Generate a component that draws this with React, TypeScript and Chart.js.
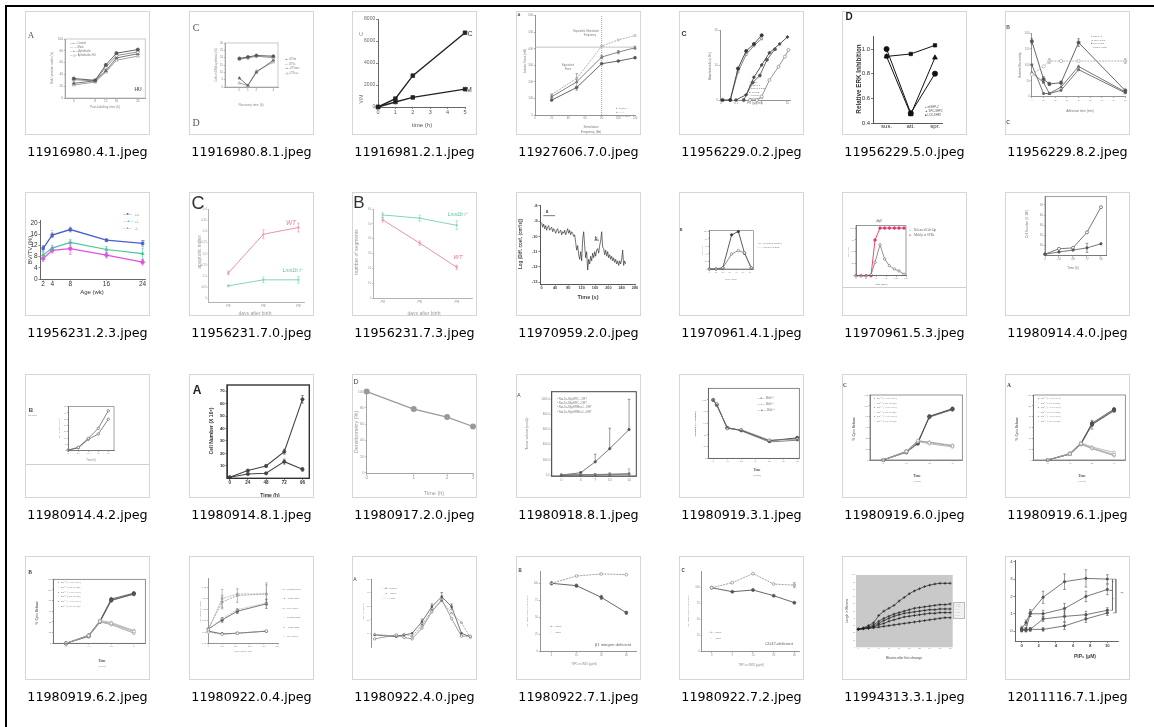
import React, { useEffect, useRef } from "react";
import { Chart, registerables } from "chart.js";

Chart.register(...registerables);

const SANS = "'Liberation Sans', Arial, Helvetica, sans-serif";
const SERIF = "'Liberation Serif', 'Times New Roman', serif";
const DV = "'DejaVu Sans', Verdana, sans-serif";

/* ---------------- captions ---------------- */
const FILE_NAMES = [
  "11916980.4.1.jpeg", "11916980.8.1.jpeg", "11916981.2.1.jpeg", "11927606.7.0.jpeg", "11956229.0.2.jpeg", "11956229.5.0.jpeg", "11956229.8.2.jpeg",
  "11956231.2.3.jpeg", "11956231.7.0.jpeg", "11956231.7.3.jpeg", "11970959.2.0.jpeg", "11970961.4.1.jpeg", "11970961.5.3.jpeg", "11980914.4.0.jpeg",
  "11980914.4.2.jpeg", "11980914.8.1.jpeg", "11980917.2.0.jpeg", "11980918.8.1.jpeg", "11980919.3.1.jpeg", "11980919.6.0.jpeg", "11980919.6.1.jpeg",
  "11980919.6.2.jpeg", "11980922.0.4.jpeg", "11980922.4.0.jpeg", "11980922.7.1.jpeg", "11980922.7.2.jpeg", "11994313.3.1.jpeg", "12011116.7.1.jpeg",
];
const COL_LEFT = [25, 189, 352, 516, 679, 842, 1005];
const ROW_TOP = [11, 192, 374, 556];

/* ---------------- data ---------------- */
const T01_X = [0, 8, 12, 16, 24];
const T01_CTRL = [33, 30, 56, 76, 82];
const T01_MOCK = [31, 29, 52, 72, 78];
const T01_HU = [25, 29, 46, 68, 75];
const T01_HUC = [22, 27, 44, 64, 71];

const T02_X = [0, 1, 2, 4];
const T02_A = [19.5, 20.5, 21.5, 21];
const T02_B = [19, 19.8, 21, 20];
const T02_C = [6, 1, 10, 18.3];
const T02_D = [2.7, 1, 10.8, 17];

const T03_X = [0, 1, 2, 5];
const T03_C = [0, 760, 2850, 6750];
const T03_M = [0, 456, 870, 1620];

const T04_X = [20, 50, 80, 100, 120];
const T04_CTRL = [90, 166, 310, 326, 346];
const T04_AAA = [110, 200, 350, 380, 406];
const T04_AAAG = [124, 220, 416, 454, 480];
const T04_VX = [80, 80];
const T04_VY = [0, 600];
const T04_HX = [0, 120];
const T04_HY = [410, 410];

const T05_X1 = [0.03, 0.06, 0.12, 0.25, 0.5, 1];
const T05_Y1 = [0, 0, 9, 14, 16, 18.5];
const T05_X2 = [0.06, 0.12, 0.25, 0.5, 1];
const T05_Y2 = [0, 8, 13, 15.5, 17.5];
const T05_X3 = [0.1, 0.25, 0.5, 1, 2, 5, 10];
const T05_Y3 = [0, 1.5, 6.5, 10, 13.5, 16, 18];
const T05_X4 = [0.2, 0.45, 0.85, 1.6, 3.3];
const T05_Y4 = [0, 5, 7, 11.5, 14.5];
const T05_X5 = [0.35, 0.65, 1, 2, 4.5, 8, 11];
const T05_Y5 = [0, 0, 1, 5.7, 9.5, 12.4, 14.3];
const T05_TICKS = ["0", "0.1", "1", "10"];

const T06_X = [0, 1, 2];
const T06_CATS = ["sus.", "att.", "spr."];
const T06_WT = [1.0, 0.48, 0.8];
const T06_SPC = [0.94, 0.47, 0.93];
const T06_LCK = [0.94, 0.96, 1.03];

const T07_X = [0, 10, 15, 25, 40, 80];
const T07_WT = [174, 55, 40, 44, 170, 19];
const T07_SPC = [75, 45, 10, 30, 95, 15];
const T07_LCK = [100, 10, 10, 20, 85, 12];
const T07_CTL = [70, 95, 112, 112, 112, 112];

const T08_X = [2, 4, 8, 16, 24];
const T08_WT = [10.9, 15.6, 17.6, 13.8, 12.7];
const T08_HET = [8.5, 11, 13, 10.5, 9];
const T08_KO = [7.3, 10.2, 10.8, 8.5, 6.0];

const T09_X = [0, 1, 2];
const T09_CATS = ["P3", "P6", "P9"];
const T09_WT = [0.114, 0.288, 0.318];
const T09_LMX = [0.056, 0.083, 0.083];

const T10_X = [0, 1, 2];
const T10_LMX = [56, 53.8, 49];
const T10_WT = [52.7, 37, 20.7];

const T11_T = [0, 3, 6, 9, 12, 15, 18, 21, 24, 27, 30, 33, 36, 39, 42, 45, 48, 51, 54, 57, 60, 63, 66, 69, 72, 75, 78, 81, 84, 87, 90, 93, 96, 99, 102, 105, 108, 111, 114, 117, 120, 123, 126, 129, 132, 135, 138, 141, 144, 147, 150, 153, 156, 159, 162, 165, 168, 171, 174, 177, 180, 183, 186, 189, 192, 195, 198, 201, 204, 207, 210, 213, 216, 219, 222, 225, 228, 231, 234, 237, 240, 243, 246, 249, 252];
const T11_V = [-9.1, -9.4, -9.2, -9.5, -9.3, -9.6, -9.4, -9.3, -9.6, -9.5, -9.4, -9.7, -9.5, -9.6, -9.8, -9.6, -9.5, -9.8, -9.7, -9.6, -9.9, -9.7, -9.8, -9.6, -9.9, -9.7, -9.5, -9.8, -9.6, -9.9, -9.7, -9.8, -10.0, -9.9, -10.4, -10.9, -10.6, -11.2, -11.5, -11.0, -11.6, -10.2, -9.7, -10.6, -11.4, -11.0, -12.2, -11.5, -11.8, -11.3, -11.6, -11.1, -11.4, -11.0, -11.3, -10.9, -10.8, -11.1, -10.6, -10.3, -9.7, -10.7, -10.8, -11.2, -10.9, -11.3, -11.0, -11.4, -11.2, -11.5, -11.3, -11.6, -11.4, -11.7, -11.5, -11.8, -11.6, -11.9, -11.6, -11.8, -11.5, -10.9, -11.9, -11.6, -11.8];
const T11_AX = [5, 40];
const T11_AY = [-8.65, -8.65];
const T11_BX = [158, 172];
const T11_BY = [-10.25, -10.25];

const T12_X = [0, 10, 20, 33, 43, 52, 62];
const T12_REL = [0, 0, 3, 91, 100, 42, 3];
const T12_SPB = [0, 0, 3, 40, 49, 43, 3];

const T13_X = [0, 15, 30, 45, 57, 72, 86, 100, 115, 129, 144];
const T13_MOB = [0, 0, 0, 0, 75, 100, 100, 100, 100, 100, 100];
const T13_REL = [0, 0, 0, 2, 28, 65, 35, 21, 14, 10, 3];

const T14_X = [0, 24, 48, 72, 96];
const T14_A = [1.5, 6.8, 7.7, 23, 47.7];
const T14_B = [1.5, 3.7, 5.5, 7.7, 11.7];

const T15_X = [0, 24, 48, 72, 96];
const T15_A = [0.5, 2.7, 9.8, 17.8, 31.8];
const T15_B = [0.5, 2.3, 9, 13.3, 25];

const T16_X = [0, 24, 48, 72, 96];
const T16_A = [0.8, 6.2, 9.9, 21.4, 63.5];
const T16_B = [0.8, 3.5, 4, 13.4, 7.2];

const T17_X = [0, 1, 2, 3];
const T17_Y = [100, 78.5, 68.6, 57];
const T17_TICKS = ["0", "1", "2", "3"];

const T18_X = [0, 4, 7, 10, 14];
const T18_A = [0, 30, 174, 348, 600];
const T18_B = [0, 5, 5, 10, 20];
const T18_C = [0, 3, 8, 10, 15];
const T18_D = [0, 2, 2, 5, 10];
const T18_YLAB = ["0.0", "200.0", "400.0", "600.0", "800.0", "1000.0"];

const T19_X = [0, 3, 12, 24, 48, 72];
const T19_WT = [100, 92, 52, 48, 30, 35];
const T19_HET = [100, 93, 51, 49, 31, 33];
const T19_KO = [100, 91, 53, 47, 28, 31];

const T20_X = [0, 12, 18, 24, 36];
const T20_U1 = [0, 16, 32, 79, 93];
const T20_U2 = [0, 15, 33, 80, 95];
const T20_U3 = [0, 14, 30, 81, 94];
const T20_L1 = [0, 16, 36, 32, 26];
const T20_L2 = [0, 15, 34, 30, 24];
const T20_L3 = [0, 15, 35, 33, 27];

const T21_X = [0, 12, 18, 24, 36];
const T21_U1 = [0, 11, 29, 65, 91];
const T21_U2 = [0, 12, 31, 68, 94];
const T21_U3 = [0, 11, 30, 66, 92];
const T21_L1 = [0, 11, 30, 22, 10];
const T21_L2 = [0, 12, 32, 24, 14];
const T21_L3 = [0, 11, 29, 21, 8];

const T22_X = [0, 12, 18, 24, 36];
const T22_U1 = [0, 14, 41, 81, 92];
const T22_U2 = [0, 15, 42, 83, 94];
const T22_U3 = [0, 13, 40, 80, 93];
const T22_L1 = [0, 14, 41, 37, 22];
const T22_L2 = [0, 15, 43, 39, 24];
const T22_L3 = [0, 14, 40, 35, 19];

const T23_X = [0, 100, 210, 420];
const T23_A = [0.154, 0.142, 0.145, 0.154];
const T23_B = [0.164, 0.284, 0.313, 0.321];
const T23_C = [0.164, 0.204, 0.243, 0.276];
const T23_D = [0.16, 0.3, 0.32, 0.32];
const T23_E = [0.16, 0.21, 0.25, 0.28];
const T23_F = [0.15, 0.14, 0.145, 0.155];

const T24_X = [0.3, 2.5, 3.3, 4.1, 5.1, 6.1, 7.1, 8.1, 9.1, 10];
const T24_A = [8.9, 7.6, 8.9, 10.1, 18.7, 29.8, 37.2, 29.8, 10.1, 7.6];
const T24_B = [9.5, 8, 9.5, 8, 16, 27, 34, 25, 18, 7];
const T24_C = [6, 9, 7, 6, 14, 26, 35, 21, 8, 8];

const T25_X = [0, 1, 2, 3];
const T25_CATS = ["0", "10", "20", "40"];
const T25_TSP = [100, 96.6, 79.5, 57];
const T25_4N1K = [100, 110.7, 113.7, 112.7];

const T26_X = [0, 1, 2, 3, 4];
const T26_CATS = ["0", "5", "10", "20", "40"];
const T26_TSP = [100, 93.7, 96.4, 87.5, 76.6];
const T26_4N1K = [100, 107.8, 122, 105.7, 104];

const T27_X = [0, 10, 20, 30, 40, 50, 60, 70, 80, 90, 100, 110, 120, 130, 140, 150, 160, 170, 180];
const T27_A = [25, 27, 30, 34, 44, 50, 54, 58, 64, 69, 74, 78, 81, 84, 86, 87.5, 88.5, 88.5, 88.5];
const T27_B = [25, 26, 28, 31, 36, 40, 43, 46, 48, 50, 52, 54, 55, 56, 57, 58, 59, 59, 60];
const T27_C = [25, 26, 27, 29, 33, 37, 40, 43, 45, 47, 48, 49, 50, 51, 52, 52, 53, 53, 53];
const T27_D = [25, 26, 27, 28, 31, 33, 36, 38, 40, 42, 43, 44, 45, 46, 47, 47, 48, 48, 48];
const T27_E = [25, 25.5, 26, 27, 28, 29, 30, 31, 32, 33, 34, 35, 36, 37, 38, 39, 40, 41, 41];

const T28_X = [0, 0.5, 1, 2.5, 5, 7.5, 10];
const T28_A = [0.13, 0.49, 1.04, 1.95, 2.85, 3.04, 3.0];
const T28_B = [0.1, 0.1, 1.0, 1.0, 1.3, 2.0, 2.4];
const T28_C = [0.05, 0.05, 0.1, 0.7, 0.85, 0.95, 1.2];
const T28_D = [0.1, 0.1, 0.1, 0.1, 0.3, 0.7, 1.05];
const T28_BRX = [10.25, 10.6, 10.6, 10.25];
const T28_BR1Y = [3.0, 3.0, 2.35, 2.35];
const T28_BR2Y = [2.35, 2.35, 1.2, 1.2];
const T28_BR3X = [10.65, 11.0, 11.0, 10.65];
const T28_BR3Y = [3.0, 3.0, 1.05, 1.05];

/* ---------------- types & helpers ---------------- */
type Ser = { x: number[]; y: number[]; xo?: number; c?: string; w?: number; ps?: any; r?: number; open?: boolean; dash?: number[]; err?: number[]; up?: boolean; noLine?: boolean; pw?: number };
type Ax = { min: number; max: number; ticks?: number[]; labels?: string[]; log?: boolean; fs?: number; fc?: string; ff?: string; bold?: boolean; italic?: boolean; line?: boolean; lc?: string; lw?: number; tl?: number; pad?: number };
type Txt = { t: string; x: number; y: number; s?: number; rot?: boolean; b?: boolean; i?: boolean; c?: string; f?: string; a?: "l" | "c" | "r" };
type Rect = { x: number; y: number; w: number; h: number; bg?: string; bd?: string };
type Spec = { plot: [number, number, number, number]; x: Ax; y: Ax; series: Ser[]; frame?: { c: string; w: number }; bg?: string; texts?: Txt[]; rects?: Rect[]; hline?: number };

const leg = (x: number, y0: number, dy: number, items: string[], s: number, extra: Partial<Txt> = {}): Txt[] =>
  items.map((t, i) => ({ t, x, y: y0 + i * dy, s, a: "l", c: "#777", ...extra }));

const W = 125;
const H = 124;
const T17_OFFSET = 2; // time axis of 11980917.2.0 is drawn on a log(t + 2) scale

/* ---------------- thumbnails ---------------- */
const SPECS: Spec[] = [
  // 1 11916980.4.1
  {
    plot: [40, 28, 122, 87],
    x: { min: -3.3, max: 26.8, ticks: [0, 8, 12, 16, 24], fs: 3.2 },
    y: { min: 0, max: 100, ticks: [0, 20, 40, 60, 80, 100], fs: 3.2 },
    frame: { c: "#bbb", w: 0.8 },
    series: [
      { x: T01_X, y: T01_CTRL, c: "#555", r: 1.6 },
      { x: T01_X, y: T01_MOCK, c: "#888", open: true, r: 1.6 },
      { x: T01_X, y: T01_HU, c: "#666", ps: "triangle", r: 1.8 },
      { x: T01_X, y: T01_HUC, c: "#999", ps: "triangle", open: true, r: 1.8 },
    ],
    texts: [
      { t: "A", x: 6, y: 24, s: 9, f: SERIF, c: "#555" },
      { t: "HU", x: 113, y: 78, s: 5, b: true, c: "#666" },
      ...leg(45, 33, 4, ["—●— Control", "—○— Mock", "—▲— Aphidicolin", "—△— Aphidicolin+HU"], 2.6),
      { t: "Post-labeling time (h)", x: 80, y: 97, s: 3.2, c: "#888" },
      { t: "BrdU-positive nuclei (%)", x: 27, y: 57, s: 3, rot: true, c: "#888" },
    ],
  },
  // 2 11916980.8.1
  {
    plot: [36, 32, 89, 76],
    x: { min: -1.7, max: 4.55, ticks: [0, 1, 2, 4], fs: 3.2 },
    y: { min: 0, max: 30, ticks: [0, 5, 10, 15, 20, 25, 30], fs: 2.8 },
    frame: { c: "#bbb", w: 0.8 },
    series: [
      { x: T02_X, y: T02_A, c: "#555", r: 1.5 },
      { x: T02_X, y: T02_B, c: "#888", open: true, r: 1.5 },
      { x: T02_X, y: T02_C, c: "#666", ps: "triangle", r: 1.6 },
      { x: T02_X, y: T02_D, c: "#999", ps: "triangle", open: true, r: 1.6 },
    ],
    texts: [
      { t: "C", x: 7, y: 17, s: 10, f: SERIF, c: "#555" },
      { t: "D", x: 7, y: 112, s: 10, f: SERIF, c: "#555" },
      ...leg(96, 49, 4.5, ["-●- UT5m", "-○- UT5s", "-▲- UT5m+c", "-△- UT5s+c"], 2.6),
      { t: "Recovery time (h)", x: 62, y: 95, s: 3.2, c: "#888" },
      { t: "Cells in DNA synthesis (%)", x: 27, y: 54, s: 2.8, rot: true, c: "#888" },
    ],
  },
  // 3 11916981.2.1
  {
    plot: [26, 8, 113, 96],
    x: { min: 0, max: 5, ticks: [0, 1, 2, 3, 4, 5], fs: 5.5, fc: "#555", lc: "#555", tl: 2 },
    y: { min: 0, max: 8000, ticks: [0, 2000, 4000, 6000, 8000], fs: 5, fc: "#666", lc: "#555", tl: 2 },
    series: [
      { x: T03_X, y: T03_C, c: "#222", w: 1.4, ps: "rect", r: 2.6 },
      { x: T03_X, y: T03_M, c: "#222", w: 1.4, ps: "rect", r: 2.6 },
    ],
    texts: [
      { t: "C", x: 118, y: 22, s: 7, c: "#333" },
      { t: "M", x: 117, y: 78, s: 7, c: "#333" },
      { t: "time (h)", x: 70, y: 114, s: 6, c: "#555" },
      { t: "C", x: 9, y: 23, s: 5, rot: true, c: "#777" },
      { t: "V/M", x: 9, y: 88, s: 5, rot: true, c: "#777" },
    ],
  },
  // 4 11927606.7.0
  {
    plot: [19, 4, 119, 104],
    x: { min: 0, max: 120, ticks: [0, 20, 40, 60, 80, 100, 120], fs: 2.8 },
    y: { min: 0, max: 600, ticks: [0, 100, 200, 300, 400, 500, 600], fs: 2.8 },
    series: [
      { x: T04_VX, y: T04_VY, c: "#777", ps: false, dash: [1, 1], w: 0.7 },
      { x: T04_HX, y: T04_HY, c: "#aaa", ps: false, w: 0.7 },
      { x: T04_X, y: T04_CTRL, c: "#555", r: 1.4 },
      { x: T04_X, y: T04_AAA, c: "#777", ps: "triangle", r: 1.5, err: [12, 50, 10, 10, 10] },
      { x: T04_X, y: T04_AAAG, c: "#aaa", ps: "rect", open: true, r: 1.3, dash: [2, 1] },
    ],
    texts: [
      { t: "A", x: 3, y: 4, s: 4, b: true, c: "#555" },
      { t: "Equivalent Stimulation", x: 70, y: 21, s: 2.6, c: "#777" },
      { t: "Frequency", x: 74, y: 25, s: 2.6, c: "#777" },
      { t: "Equivalent", x: 52, y: 55, s: 2.6, c: "#777" },
      { t: "Force", x: 52, y: 59, s: 2.6, c: "#777" },
      ...leg(99, 98, 4, ["-●- Control", "-▲- AAA", "-□- AAA+GM1"], 2.4),
      { t: "Stimulation", x: 75, y: 116, s: 3, c: "#777" },
      { t: "Frequency (Hz)", x: 75, y: 120.5, s: 3, c: "#777" },
      { t: "Isotonic Force (mN)", x: 9, y: 50, s: 2.8, rot: true, c: "#777" },
    ],
  },
  // 5 11956229.0.2
  {
    plot: [41, 19, 111, 89],
    x: { min: 0.024, max: 12.6, log: true, ticks: [0.026, 0.1, 1, 10], labels: T05_TICKS, fs: 3.2 },
    y: { min: 0, max: 20, ticks: [0, 10, 20], fs: 3.2 },
    series: [
      { x: T05_X1, y: T05_Y1, c: "#333", r: 1.6 },
      { x: T05_X2, y: T05_Y2, c: "#777", ps: "rect", open: true, r: 1.4 },
      { x: T05_X3, y: T05_Y3, c: "#444", ps: "rectRot", r: 1.6 },
      { x: T05_X4, y: T05_Y4, c: "#555", r: 1.5 },
      { x: T05_X5, y: T05_Y5, c: "#888", open: true, r: 1.5 },
    ],
    texts: [
      { t: "C", x: 5, y: 22, s: 7, b: true, c: "#333" },
      ...leg(70, 71, 3.2, ["△ mock", "● shSHP-2", "○ shSHP-2 SS3", "◆ PTPRB", "□ PTPRB +", "   shSHP-2 SS3"], 2.3),
      { t: "Fn (µg/ml)", x: 76, y: 92.5, s: 3.4, c: "#777" },
      { t: "Attached cells (x 10³)", x: 31, y: 55, s: 3, rot: true, c: "#777" },
    ],
  },
  // 6 11956229.5.0
  {
    plot: [31, 25.7, 100, 112],
    x: { min: -0.56, max: 2.29, ticks: [0, 1, 2], labels: T06_CATS, fs: 6, fc: "#333", lc: "#444", tl: 0 },
    y: { min: 0.4, max: 1.1, ticks: [0.4, 0.6, 0.8, 1.0], labels: ["0.4", "0.6", "0.8", "1.0"], fs: 6, fc: "#333", lc: "#444", tl: 2 },
    series: [
      { x: T06_X, y: T06_WT, c: "#111", r: 2.6, w: 1 },
      { x: T06_X, y: T06_SPC, c: "#111", ps: "triangle", r: 2.8, w: 1 },
      { x: T06_X, y: T06_LCK, c: "#111", ps: "rect", r: 2.4, w: 1 },
    ],
    texts: [
      { t: "D", x: 7, y: 6, s: 10, b: true, c: "#222" },
      { t: "Relative ERK Inhibition", x: 17, y: 68, s: 6.3, b: true, rot: true, c: "#333" },
      ...leg(83, 96, 4, ["● wtSHP-2", "▲ SPC-SHP2", "■ LCK-SHP2"], 2.8, { c: "#555" }),
    ],
  },
  // 7 11956229.8.2
  {
    plot: [26.5, 22, 121.7, 85.7],
    x: { min: -0.3, max: 80, ticks: [0, 10, 20, 30, 40, 50, 60, 70, 80], fs: 2.4 },
    y: { min: 0, max: 200, ticks: [0, 50, 100, 150, 200], fs: 2.8 },
    series: [
      { x: T07_X, y: T07_CTL, c: "#aaa", open: true, dash: [2, 1], r: 1.6, err: [0, 0, 8, 0, 0, 8] },
      { x: T07_X, y: T07_WT, c: "#555", r: 1.6, err: [8, 8, 5, 5, 12, 5] },
      { x: T07_X, y: T07_SPC, c: "#666", ps: "triangle", r: 1.6 },
      { x: T07_X, y: T07_LCK, c: "#666", ps: "rect", r: 1.4 },
    ],
    texts: [
      { t: "B", x: 3, y: 16, s: 5, b: true, c: "#555" },
      { t: "C", x: 3, y: 111, s: 5, b: true, c: "#555" },
      ...leg(86, 25, 3.5, ["● wtSHP-2", "▲ SPC-SHP2", "■ LCK-SHP2", "○ control vector"], 2.3),
      { t: "Adhesion time (min)", x: 75, y: 101, s: 3.1, c: "#777" },
      { t: "Relative Rho activity", x: 15, y: 54, s: 2.8, rot: true, c: "#777" },
    ],
  },
  // 8 11956231.2.3
  {
    plot: [15, 28, 121, 87],
    x: { min: 1.3, max: 24.6, ticks: [2, 4, 8, 16, 24], fs: 6.5, fc: "#333", lc: "#555", tl: 1.5 },
    y: { min: 0, max: 21, ticks: [0, 4, 8, 12, 16, 20], fs: 6.5, fc: "#333", lc: "#555", tl: 1.5 },
    series: [
      { x: T08_X, y: T08_HET, c: "#44c898", ps: "triangle", r: 1.8, w: 1.2, err: [1, 1, 1, 1, 2] },
      { x: T08_X, y: T08_WT, c: "#4a5fd0", ps: "rect", r: 1.8, w: 1.3, err: [1, 0.8, 0.8, 0.5, 1] },
      { x: T08_X, y: T08_KO, c: "#e050e0", r: 1.8, w: 1.3, err: [1, 1, 2, 1, 1] },
    ],
    texts: [
      { t: "—■—", x: 98, y: 23, s: 3.5, a: "l", c: "#4a5fd0" },
      { t: "+/+", x: 110, y: 23, s: 3, a: "l", c: "#777" },
      { t: "—▲—", x: 98, y: 30, s: 3.5, a: "l", c: "#44c898" },
      { t: "+/-", x: 110, y: 30, s: 3, a: "l", c: "#777" },
      { t: "—●—", x: 98, y: 37, s: 3.5, a: "l", c: "#e050e0" },
      { t: "-/-", x: 110, y: 37, s: 3, a: "l", c: "#777" },
      { t: "*", x: 18, y: 56, s: 4, c: "#555" },
      { t: "*", x: 27, y: 40, s: 4, c: "#555" },
      { t: "*", x: 45, y: 40, s: 4, c: "#555" },
      { t: "*", x: 82, y: 49, s: 4, c: "#555" },
      { t: "*", x: 119, y: 50, s: 4, c: "#555" },
      { t: "Age (wk)", x: 67, y: 100, s: 6, c: "#333" },
      { t: "BV/TV (%)", x: 5, y: 58, s: 6, rot: true, c: "#333" },
    ],
  },
  // 9 11956231.7.0
  {
    plot: [19.5, 17.3, 115, 110],
    x: { min: -0.566, max: 2.16, ticks: [0, 1, 2], labels: T09_CATS, fs: 3.5, fc: "#888", lc: "#aaa", italic: true, tl: 1 },
    y: { min: -0.0166, max: 0.4, ticks: [0, 0.05, 0.1, 0.15, 0.2, 0.25, 0.3, 0.35, 0.4], fs: 2.8, fc: "#999", lc: "#aaa", tl: 1 },
    series: [
      { x: T09_X, y: T09_WT, c: "#f090a8", r: 0.8, w: 1, err: [0.008, 0.02, 0.02] },
      { x: T09_X, y: T09_LMX, c: "#80d8b0", r: 0.8, w: 1, err: [0.004, 0.012, 0.015] },
    ],
    texts: [
      { t: "C", x: 9, y: 11, s: 18, c: "#333" },
      { t: "WT", x: 102, y: 31, s: 6.5, i: true, c: "#e0809a" },
      { t: "Lmx1b⁻/⁻", x: 104, y: 78, s: 5, i: true, c: "#50c090" },
      { t: "apoptotic index", x: 10, y: 60, s: 5, rot: true, c: "#999" },
      { t: "days after birth", x: 66, y: 121, s: 5, c: "#999" },
    ],
  },
  // 10 11956231.7.3
  {
    plot: [21, 17, 124, 106],
    x: { min: -0.26, max: 2.42, ticks: [0, 1, 2], labels: T09_CATS, fs: 3.5, fc: "#888", lc: "#aaa", italic: true, tl: 1 },
    y: { min: 0, max: 60, ticks: [0, 10, 20, 30, 40, 50, 60], fs: 2.8, fc: "#999", lc: "#aaa", tl: 1 },
    series: [
      { x: T10_X, y: T10_LMX, c: "#80d8b0", r: 0.8, w: 1, err: [1.5, 2, 3] },
      { x: T10_X, y: T10_WT, c: "#f090a8", r: 0.8, w: 1, err: [1.5, 1.5, 1.5] },
    ],
    texts: [
      { t: "B", x: 7, y: 10, s: 17, c: "#333" },
      { t: "Lmx1b⁻/⁻", x: 106, y: 22, s: 5, i: true, c: "#50c090" },
      { t: "WT", x: 106, y: 65, s: 6, i: true, c: "#e0809a" },
      { t: "number of segments", x: 4, y: 60, s: 5, rot: true, c: "#999" },
      { t: "days after birth", x: 72, y: 121, s: 5, c: "#999" },
    ],
  },
  // 11 11970959.2.0
  {
    plot: [24, 13.7, 119, 92],
    x: { min: -5, max: 280, ticks: [0, 40, 80, 120, 160, 200, 240, 280], fs: 3.8, fc: "#444", bold: true, lc: "#444", tl: 1.5 },
    y: { min: -13.11, max: -8, ticks: [-13, -12, -11, -10, -9, -8], fs: 4.2, fc: "#444", bold: true, lc: "#444", tl: 1.5 },
    series: [
      { x: T11_T, y: T11_V, c: "#333", w: 0.7, ps: false },
      { x: T11_AX, y: T11_AY, c: "#444", w: 0.7, ps: false },
      { x: T11_BX, y: T11_BY, c: "#444", w: 0.7, ps: false },
    ],
    texts: [
      { t: "a", x: 31, y: 20, s: 4.5, b: true, c: "#444" },
      { t: "b", x: 80, y: 47, s: 4.5, b: true, c: "#444" },
      { t: "Time (s)", x: 72, y: 106, s: 5.5, b: true, c: "#444" },
      { t: "Log (Diff. coef. (cm²/s))", x: 5, y: 52, s: 4.6, b: true, rot: true, c: "#444" },
    ],
  },
  // 12 11970961.4.1
  {
    plot: [30.3, 38.7, 74.3, 77],
    x: { min: 0, max: 65, ticks: [0, 10, 20, 30, 40, 50, 60], fs: 2 },
    y: { min: 0, max: 102, ticks: [0, 20, 40, 60, 80, 100], fs: 2 },
    frame: { c: "#666", w: 0.6 },
    series: [
      { x: T12_X, y: T12_SPB, c: "#777", open: true, r: 1.2, w: 0.8 },
      { x: T12_X, y: T12_REL, c: "#333", r: 1.2, w: 0.8 },
    ],
    texts: [
      { t: "B", x: 2, y: 38, s: 4.5, b: true, f: SERIF, c: "#444" },
      ...leg(78, 51, 4, ["—●— Released Cdc14p", "—○— Cdc14p at SPB"], 2.3),
      { t: "Time (min)", x: 52, y: 88, s: 2.5, c: "#888" },
      { t: "Cells (%)", x: 23, y: 58, s: 2.3, rot: true, c: "#888" },
    ],
  },
  // 13 11970961.5.3
  {
    plot: [14, 33.7, 64, 83.7],
    x: { min: 0, max: 150, ticks: [0, 30, 60, 90, 120, 150], fs: 2.2 },
    y: { min: 0, max: 105, ticks: [0, 25, 50, 75, 100], fs: 2.2 },
    frame: { c: "#555", w: 0.6 },
    hline: 95.3,
    series: [
      { x: T13_X, y: T13_REL, c: "#777", open: true, r: 1.2, w: 0.8 },
      { x: T13_X, y: T13_MOB, c: "#e8306a", r: 1.3, w: 0.9 },
    ],
    texts: [
      { t: "dbf2", x: 37, y: 30, s: 3.5, i: true, f: SERIF, c: "#555" },
      { t: "○", x: 67, y: 39, s: 3.3, a: "l", c: "#777" },
      { t: "Released Cdc14p", x: 72, y: 39, s: 3.2, a: "l", f: SERIF, c: "#666" },
      { t: "●", x: 67, y: 44, s: 3.3, a: "l", c: "#e8306a" },
      { t: "Mob1p at SPBs", x: 72, y: 44, s: 3.2, a: "l", f: SERIF, c: "#666" },
      { t: "Time (min)", x: 39, y: 93, s: 2.8, f: SERIF, c: "#666" },
      { t: "Cells (%)", x: 7, y: 60, s: 2.4, rot: true, c: "#888" },
    ],
  },
  // 14 11980914.4.0
  {
    plot: [40, 1, 101.7, 63.7],
    x: { min: 0, max: 105.8, ticks: [0, 24, 48, 72, 96], fs: 3 },
    y: { min: 0, max: 58, ticks: [10, 20, 30, 40, 50], fs: 3 },
    frame: { c: "#666", w: 0.6 },
    series: [
      { x: T14_X, y: T14_B, c: "#555", r: 1.2, w: 0.8, err: [0, 0, 0, 4.5, 0] },
      { x: T14_X, y: T14_A, c: "#555", open: true, r: 1.5, w: 0.8 },
    ],
    texts: [
      { t: "Time (h)", x: 68, y: 77, s: 3.2, c: "#777" },
      { t: "Cell Number (X 10⁶)", x: 23, y: 32, s: 3.2, rot: true, c: "#777" },
    ],
  },
  // 15 11980914.4.2
  {
    plot: [43.3, 32.7, 89, 76.7],
    x: { min: 0, max: 109.7, ticks: [0, 24, 48, 72, 96], fs: 2.2 },
    y: { min: 0, max: 35, ticks: [0, 5, 10, 15, 20, 25, 30, 35], fs: 2 },
    frame: { c: "#666", w: 0.6 },
    hline: 90.3,
    series: [
      { x: T15_X, y: T15_A, c: "#666", open: true, r: 1.2, w: 0.8 },
      { x: T15_X, y: T15_B, c: "#666", open: true, r: 1.2, w: 0.8 },
    ],
    texts: [
      { t: "B", x: 6, y: 36, s: 6, b: true, c: "#444" },
      { t: "NIH3T3", x: 3, y: 42, s: 2.5, a: "l", c: "#777" },
      { t: "Time (h)", x: 66, y: 87, s: 2.6, c: "#888" },
      { t: "Cell Number (X 10⁶)", x: 34, y: 54, s: 2.3, rot: true, c: "#888" },
    ],
  },
  // 16 11980914.8.1
  {
    plot: [38, 11, 124.8, 104.3],
    x: { min: -3.5, max: 105, ticks: [0, 24, 48, 72, 96], fs: 4.5, bold: true, fc: "#333", lc: "#333", tl: 1.5 },
    y: { min: 0, max: 75, ticks: [10, 20, 30, 40, 50, 60, 70], fs: 4.3, bold: true, fc: "#333", lc: "#333", tl: 1.5 },
    frame: { c: "#333", w: 1.4 },
    series: [
      { x: T16_X, y: T16_B, c: "#444", r: 1.6, w: 1.1, err: [0, 0.5, 0.5, 2, 1.5] },
      { x: T16_X, y: T16_A, c: "#444", r: 1.6, w: 1.1, err: [0, 0.5, 1, 2, 3] },
    ],
    texts: [
      { t: "A", x: 8, y: 16, s: 12, b: true, c: "#222" },
      { t: "Time (h)", x: 81, y: 121, s: 5, b: true, c: "#333" },
      { t: "Cell Number (X 10⁶)", x: 22, y: 57, s: 5, b: true, rot: true, c: "#333" },
    ],
  },
  // 17 11980917.2.0
  {
    plot: [14.7, 16, 121.3, 99.3],
    x: {
      min: T17_X[0] + T17_OFFSET,
      max: T17_X[3] + T17_OFFSET,
      log: true,
      ticks: T17_X.map((v) => v + T17_OFFSET),
      labels: T17_TICKS,
      fs: 4.5,
      fc: "#999",
      lc: "#999",
      tl: 1.5,
    },
    y: { min: -0.7, max: 102, ticks: [0, 20, 40, 60, 80, 100], fs: 4, fc: "#999", lc: "#999", tl: 1.5 },
    series: [{ x: T17_X, y: T17_Y, xo: T17_OFFSET, c: "#999", w: 1.2, r: 3, ps: "circle", pw: 0 }],
    texts: [
      { t: "D", x: 4, y: 7, s: 7, c: "#444" },
      { t: "Densitometry  (%)", x: 5, y: 58, s: 5.5, rot: true, c: "#999" },
      { t: "Time (h)", x: 82, y: 120, s: 5.5, c: "#999" },
    ],
  },
  // 18 11980918.8.1
  {
    plot: [35.7, 17.7, 123.3, 102],
    x: { min: -2, max: 15.5, ticks: [0, 4, 7, 10, 14], fs: 3.4 },
    y: { min: -13, max: 1100, ticks: [0, 200, 400, 600, 800, 1000], labels: T18_YLAB, fs: 2.8 },
    frame: { c: "#444", w: 1 },
    series: [
      { x: T18_X, y: T18_D, c: "#777", r: 1, w: 0.7 },
      { x: T18_X, y: T18_C, c: "#777", r: 1, w: 0.7 },
      { x: T18_X, y: T18_B, c: "#888", r: 1, w: 0.7, err: [0, 5, 10, 20, 60], up: true },
      { x: T18_X, y: T18_A, c: "#555", r: 1.2, w: 0.8, err: [0, 10, 100, 270, 400], up: true },
    ],
    texts: [
      { t: "A", x: 3, y: 21, s: 5, c: "#444" },
      ...leg(41, 26, 4.2, ["• Rat-1/c-MycERC −OHT", "• Rat-1/c-MycERC +OHT", "• Rat-1/c-MycERMnt-1 −OHT", "• Rat-1/c-MycERMnt-1 +OHT"], 2.7),
      { t: "Tumor volume (mm3)", x: 12, y: 60, s: 3.3, rot: true, c: "#777" },
    ],
  },
  // 19 11980919.3.1
  {
    plot: [29.3, 14.3, 123, 84.3],
    x: { min: -4.2, max: 73.7, ticks: [0, 12, 24, 36, 48, 60, 72], fs: 2.8, ff: SERIF },
    y: { min: 0, max: 120, ticks: [0, 20, 40, 60, 80, 100], fs: 2.8, ff: SERIF },
    frame: { c: "#555", w: 0.7 },
    series: [
      { x: T19_X, y: T19_KO, c: "#666", ps: "triangle", r: 1.4, w: 0.8 },
      { x: T19_X, y: T19_HET, c: "#777", open: true, r: 1.4, w: 0.8 },
      { x: T19_X, y: T19_WT, c: "#333", r: 1.6, w: 0.9 },
    ],
    texts: [
      ...leg(78, 25, 6, ["—●—  Bid⁺/⁺", "—○—  Bid⁺/⁻", "—▲—  Bid⁻/⁻"], 3.2, { f: SERIF, c: "#666" }),
      { t: "Survival (% Control)", x: 17, y: 50, s: 2.8, rot: true, b: true, f: SERIF, c: "#666" },
      { t: "Time", x: 78, y: 97, s: 3.2, b: true, f: SERIF, c: "#555" },
      { t: "(Hours)", x: 78, y: 101.5, s: 2.5, f: SERIF, c: "#777" },
    ],
  },
  // 20 11980919.6.0
  {
    plot: [28, 21, 121.3, 86],
    x: { min: -6.84, max: 41.1, ticks: [0, 12, 24, 36], fs: 2.8, ff: SERIF },
    y: { min: 0, max: 120, ticks: [0, 20, 40, 60, 80, 100, 120], fs: 2.6, ff: SERIF },
    frame: { c: "#666", w: 0.7 },
    series: [
      { x: T20_X, y: T20_L1, c: "#999", open: true, r: 1.4, w: 0.8 },
      { x: T20_X, y: T20_L2, c: "#aaa", open: true, r: 1.4, w: 0.8 },
      { x: T20_X, y: T20_L3, c: "#999", open: true, r: 1.4, w: 0.8 },
      { x: T20_X, y: T20_U1, c: "#555", r: 1.6, w: 0.8 },
      { x: T20_X, y: T20_U2, c: "#444", r: 1.6, w: 0.8 },
      { x: T20_X, y: T20_U3, c: "#555", r: 1.6, w: 0.8 },
    ],
    texts: [
      { t: "C", x: 3, y: 12, s: 5.5, b: true, f: SERIF, c: "#444" },
      ...leg(31, 25, 4.6, ["-●- Bid⁺/⁺ (-NGF/EtOH)", "-○- Bid⁺/⁺ (NGF/serum)", "-●- Bid⁺/⁻ (-NGF/EtOH)", "-○- Bid⁺/⁻ (NGF/serum)", "-●- Bid⁻/⁻ (-NGF/EtOH)", "-○- Bid⁻/⁻ (NGF/serum)"], 2.4, { f: SERIF }),
      { t: "% Cyt c Release", x: 13, y: 55, s: 3.4, rot: true, b: true, f: SERIF, c: "#666" },
      { t: "Time", x: 75, y: 103, s: 3.4, b: true, f: SERIF, c: "#555" },
      { t: "(Hours)", x: 75, y: 108, s: 2.5, f: SERIF, c: "#888" },
    ],
  },
  // 21 11980919.6.1
  {
    plot: [28.3, 21, 123.3, 86],
    x: { min: -7.9, max: 42.1, ticks: [0, 12, 24, 36], fs: 2.8, ff: SERIF },
    y: { min: 0, max: 120, ticks: [0, 20, 40, 60, 80, 100, 120], fs: 2.6, ff: SERIF },
    frame: { c: "#666", w: 0.7 },
    series: [
      { x: T21_X, y: T21_L1, c: "#999", open: true, r: 1.4, w: 0.8 },
      { x: T21_X, y: T21_L2, c: "#aaa", open: true, r: 1.4, w: 0.8 },
      { x: T21_X, y: T21_L3, c: "#999", open: true, r: 1.4, w: 0.8 },
      { x: T21_X, y: T21_U1, c: "#555", r: 1.6, w: 0.8, err: [0, 0, 0, 8, 0] },
      { x: T21_X, y: T21_U2, c: "#444", r: 1.6, w: 0.8 },
      { x: T21_X, y: T21_U3, c: "#555", r: 1.6, w: 0.8 },
    ],
    texts: [
      { t: "A", x: 4, y: 12, s: 5.5, b: true, f: SERIF, c: "#444" },
      ...leg(32, 25, 4.6, ["-●- Bid⁺/⁺ (-NGF/EtOH)", "-○- Bid⁺/⁺ (NGF/serum)", "-●- Bid⁺/⁻ (-NGF/EtOH)", "-○- Bid⁺/⁻ (NGF/serum)", "-●- Bid⁻/⁻ (-NGF/EtOH)", "-○- Bid⁻/⁻ (NGF/serum)"], 2.4, { f: SERIF }),
      { t: "% Cyt c Release", x: 13, y: 55, s: 3.4, rot: true, b: true, f: SERIF, c: "#666" },
      { t: "Time", x: 77, y: 103, s: 3.4, b: true, f: SERIF, c: "#555" },
      { t: "(Hours)", x: 77, y: 108, s: 2.5, f: SERIF, c: "#888" },
    ],
  },
  // 22 11980919.6.2
  {
    plot: [28.3, 23.3, 124.3, 87.3],
    x: { min: -6.8, max: 42.1, ticks: [0, 12, 24, 36], fs: 2.8, ff: SERIF },
    y: { min: 0, max: 120, ticks: [0, 20, 40, 60, 80, 100, 120], fs: 2.6, ff: SERIF },
    frame: { c: "#666", w: 0.7 },
    series: [
      { x: T22_X, y: T22_L1, c: "#999", open: true, r: 1.4, w: 0.8 },
      { x: T22_X, y: T22_L2, c: "#aaa", open: true, r: 1.4, w: 0.8 },
      { x: T22_X, y: T22_L3, c: "#999", open: true, r: 1.4, w: 0.8 },
      { x: T22_X, y: T22_U1, c: "#555", r: 1.6, w: 0.8 },
      { x: T22_X, y: T22_U2, c: "#444", r: 1.6, w: 0.8 },
      { x: T22_X, y: T22_U3, c: "#555", r: 1.6, w: 0.8 },
    ],
    texts: [
      { t: "B", x: 5, y: 17, s: 5.5, b: true, f: SERIF, c: "#444" },
      ...leg(32, 27, 4.8, ["-●- Bid⁺/⁺ (-NGF/EtOH)", "-○- Bid⁺/⁺ (NGF/serum)", "-●- Bid⁺/⁻ (-NGF/EtOH)", "-○- Bid⁺/⁻ (NGF/serum)", "-●- Bid⁻/⁻ (-NGF/EtOH)", "-○- Bid⁻/⁻ (NGF/serum)"], 2.4, { f: SERIF }),
      { t: "% Cyt c Release", x: 13, y: 57, s: 3.4, rot: true, b: true, f: SERIF, c: "#666" },
      { t: "Time", x: 77, y: 106, s: 3.4, b: true, f: SERIF, c: "#555" },
      { t: "(Hours)", x: 77, y: 111, s: 2.5, f: SERIF, c: "#888" },
    ],
  },
  // 23 11980922.0.4
  {
    plot: [19.3, 22.3, 89.8, 87.3],
    x: { min: 0, max: 510, ticks: [0, 100, 200, 300, 400, 500], fs: 2.2 },
    y: { min: 0.1, max: 0.39, ticks: [0.1, 0.15, 0.2, 0.25, 0.3, 0.35], labels: ["0.10", "0.15", "0.20", "0.25", "0.30", "0.35"], fs: 2.2 },
    series: [
      { x: T23_X, y: T23_F, c: "#999", open: true, r: 1.3, w: 0.7, dash: [2, 1] },
      { x: T23_X, y: T23_E, c: "#aaa", ps: "rectRot", open: true, r: 1.3, w: 0.7, dash: [2, 1] },
      { x: T23_X, y: T23_D, c: "#999", ps: "rect", open: true, r: 1.2, w: 0.7, dash: [2, 1], err: [0, 0.04, 0, 0.05] },
      { x: T23_X, y: T23_B, c: "#888", ps: "triangle", open: true, r: 1.3, w: 0.7, dash: [2, 1], err: [0, 0.03, 0.03, 0.04] },
      { x: T23_X, y: T23_C, c: "#555", r: 1.3, w: 0.8, err: [0, 0.01, 0.01, 0.02] },
      { x: T23_X, y: T23_A, c: "#444", r: 1.3, w: 0.8 },
    ],
    texts: [
      ...leg(92, 33, 9.4, ["—●— Resting Mac1", "—▲— TSP1 Mac1", "—●— PMA Mac1", "- -□- - Resting Mac2", "- -▲- - TSP1 Mac2", "- -○- - PMA Mac2"], 2.2),
      { t: "4N1 (nmol/L) with", x: 54, y: 95, s: 2.3, c: "#888" },
      { t: "Cell adhesion (A540)", x: 11, y: 55, s: 2.2, rot: true, c: "#888" },
    ],
  },
  // 24 11980922.4.0
  {
    plot: [19.7, 23.3, 122, 91],
    x: { min: 0, max: 10.2, fs: 0, line: false, tl: 0 },
    y: { min: 0, max: 50, ticks: [10, 20, 30, 40, 50], fs: 2.4 },
    series: [
      { x: T24_X, y: T24_C, c: "#777", open: true, r: 1.2, w: 0.7 },
      { x: T24_X, y: T24_B, c: "#888", ps: "triangle", open: true, r: 1.3, w: 0.7, dash: [2, 1] },
      { x: T24_X, y: T24_A, c: "#555", ps: "rect", r: 1.1, w: 0.8, err: [0, 0, 0, 0, 2, 2, 3, 2, 0, 0] },
    ],
    texts: [
      { t: "A", x: 3, y: 23, s: 5, c: "#444" },
      ...leg(31, 32, 5, ["—■— Control", "- -▲- - TSP1", "—○— 4N1K"], 2.3),
      { t: "Cell proliferation", x: 11, y: 55, s: 2.3, rot: true, c: "#888" },
    ],
  },
  // 25 11980922.7.1
  {
    plot: [24, 15.7, 122.3, 95.7],
    x: { min: -0.46, max: 3.4, ticks: [0, 1, 2, 3], labels: T25_CATS, fs: 2.6 },
    y: { min: 0, max: 117, ticks: [0, 25, 50, 75, 100], fs: 2.6 },
    series: [
      { x: T25_X, y: T25_4N1K, c: "#888", open: true, r: 1.4, w: 0.8, dash: [2, 1] },
      { x: T25_X, y: T25_TSP, c: "#555", r: 1.5, w: 0.9, err: [2, 2, 3, 2] },
    ],
    texts: [
      { t: "B", x: 4, y: 15, s: 4.5, b: true, c: "#444" },
      ...leg(32, 71, 6, ["—●— TSP1", "- -○- - 4N1K"], 2.5),
      { t: "β1 integrin deficient", x: 97, y: 89, s: 4.2, c: "#666" },
      { t: "TSP1 or 4N1K (µg/ml)", x: 68, y: 109, s: 2.6, c: "#888" },
      { t: "Cell attachment (% of control)", x: 12, y: 55, s: 2.4, rot: true, c: "#888" },
    ],
  },
  // 26 11980922.7.2
  {
    plot: [22.7, 15.7, 121, 95.7],
    x: { min: -0.48, max: 4.24, ticks: [0, 1, 2, 3, 4], labels: T26_CATS, fs: 2.6 },
    y: { min: 0, max: 125, ticks: [0, 25, 50, 75, 100], fs: 2.6 },
    series: [
      { x: T26_X, y: T26_4N1K, c: "#888", open: true, r: 1.4, w: 0.8, dash: [2, 1], err: [0, 0, 0, 0, 4] },
      { x: T26_X, y: T26_TSP, c: "#555", r: 1.5, w: 0.9 },
    ],
    texts: [
      { t: "C", x: 4, y: 15, s: 4.5, b: true, c: "#444" },
      ...leg(29, 77, 6, ["—●— TSP1", "- -○- - 4N1K"], 2.5),
      { t: "CD47-deficient", x: 100, y: 88, s: 4.2, c: "#666" },
      { t: "TSP1 or 4N1K (µg/ml)", x: 72, y: 110, s: 2.6, c: "#888" },
      { t: "Cell attachment (% of control)", x: 10, y: 55, s: 2.4, rot: true, c: "#888" },
    ],
  },
  // 27 11994313.3.1
  {
    plot: [14, 19, 110.7, 91.3],
    x: { min: -4.5, max: 185, ticks: [0, 20, 40, 60, 80, 100, 120, 140, 160, 180], fs: 1.8, line: false, tl: 0 },
    y: { min: 0, max: 100, ticks: [0, 10, 20, 30, 40, 50, 60, 70, 80, 90, 100], fs: 1.8, line: false, tl: 0 },
    bg: "#c9c9c9",
    series: [
      { x: T27_X, y: T27_E, c: "#222", ps: "cross", r: 1.4, w: 0.7 },
      { x: T27_X, y: T27_D, c: "#222", ps: "cross", r: 1.4, w: 0.7 },
      { x: T27_X, y: T27_C, c: "#222", ps: "cross", r: 1.4, w: 0.7 },
      { x: T27_X, y: T27_B, c: "#222", ps: "cross", r: 1.4, w: 0.7 },
      { x: T27_X, y: T27_A, c: "#222", ps: "cross", r: 1.4, w: 0.7 },
    ],
    rects: [{ x: 111, y: 46, w: 11.5, h: 16.5, bg: "#f2f2f2", bd: "#bbb" }],
    texts: [
      ...leg(112, 48.5, 2.9, ["— n=10", "— n=12", "— n=9", "— n=11", "— n=8"], 1.7, { c: "#999" }),
      { t: "Length in Microns", x: 5, y: 55, s: 2.8, rot: true, b: true, c: "#777" },
      { t: "Minutes after first cleavage", x: 62, y: 102, s: 2.8, b: true, c: "#777" },
    ],
  },
  // 28 12011116.7.1
  {
    plot: [10, 0.7, 113.3, 85.7],
    x: { min: -0.78, max: 11.28, ticks: [0, 2, 4, 6, 8, 10], fs: 4.3, bold: true, fc: "#444", lc: "#555", tl: 1.5 },
    y: { min: -0.61, max: 4.06, ticks: [0, 1, 2, 3, 4], fs: 4.2, fc: "#444", lc: "#555", tl: 1.5 },
    series: [
      { x: T28_X, y: T28_D, c: "#555", r: 1.2, w: 0.8, err: [0.1, 0.1, 0.1, 0.1, 0.2, 0.2, 0.15] },
      { x: T28_X, y: T28_C, c: "#555", r: 1.2, w: 0.8, err: [0.1, 0.1, 0.1, 0.15, 0.3, 0.2, 0.15] },
      { x: T28_X, y: T28_B, c: "#555", r: 1.2, w: 0.8, err: [0.1, 0.1, 0.15, 0.2, 0.3, 0.3, 0.3] },
      { x: T28_X, y: T28_A, c: "#555", r: 1.2, w: 0.8, err: [0.15, 0.15, 0.2, 0.35, 0.45, 0.5, 0.25] },
      { x: T28_BRX, y: T28_BR1Y, c: "#666", ps: false, w: 0.6 },
      { x: T28_BRX, y: T28_BR2Y, c: "#666", ps: false, w: 0.6 },
      { x: T28_BR3X, y: T28_BR3Y, c: "#666", ps: false, w: 0.6 },
    ],
    texts: [
      { t: "*", x: 108, y: 27, s: 4, c: "#555" },
      { t: "*", x: 108, y: 44, s: 4, c: "#555" },
      { t: "**", x: 117, y: 38, s: 4, c: "#555" },
      { t: "PIP₂ (µM)", x: 80, y: 100, s: 5, b: true, c: "#444" },
    ],
  },
];

/* ---------------- chart.js plumbing ---------------- */
const errPlugin = {
  id: "errbars",
  afterDatasetsDraw(chart: any) {
    const ctx = chart.ctx;
    const ys = chart.scales.y;
    chart.data.datasets.forEach((ds: any, di: number) => {
      if (!ds.err) return;
      const meta = chart.getDatasetMeta(di);
      ctx.save();
      ctx.strokeStyle = ds.errColor;
      ctx.lineWidth = 0.6;
      meta.data.forEach((pt: any, i: number) => {
        const e = ds.err[i];
        if (!e) return;
        const v = ds.data[i].y;
        const yTop = ys.getPixelForValue(v + e);
        const yBot = ds.errUp ? pt.y : ys.getPixelForValue(v - e);
        ctx.beginPath();
        ctx.moveTo(pt.x, yTop);
        ctx.lineTo(pt.x, yBot);
        ctx.moveTo(pt.x - 1.3, yTop);
        ctx.lineTo(pt.x + 1.3, yTop);
        if (!ds.errUp) {
          ctx.moveTo(pt.x - 1.3, yBot);
          ctx.lineTo(pt.x + 1.3, yBot);
        }
        ctx.stroke();
      });
      ctx.restore();
    });
  },
};

function decoPlugin(sp: Spec) {
  return {
    id: "deco",
    beforeDraw(chart: any) {
      if (!sp.bg) return;
      const a = chart.chartArea;
      const ctx = chart.ctx;
      ctx.save();
      ctx.fillStyle = sp.bg;
      ctx.fillRect(a.left, a.top, a.right - a.left, a.bottom - a.top);
      ctx.restore();
    },
    afterDraw(chart: any) {
      if (!sp.frame) return;
      const a = chart.chartArea;
      const ctx = chart.ctx;
      ctx.save();
      ctx.strokeStyle = sp.frame.c;
      ctx.lineWidth = sp.frame.w;
      ctx.strokeRect(a.left, a.top, a.right - a.left, a.bottom - a.top);
      ctx.restore();
    },
  };
}

function axisOptions(a: Ax, isX: boolean, size: number) {
  const lc = a.lc ?? "#888";
  const tl = a.tl ?? 1.2;
  return {
    type: a.log ? "logarithmic" : "linear",
    position: isX ? "bottom" : "left",
    bounds: "data",
    min: a.min,
    max: a.max,
    afterFit: (s: any) => {
      if (isX) s.height = size;
      else s.width = size;
    },
    afterBuildTicks: (s: any) => {
      s.ticks = (a.ticks ?? []).map((v) => ({ value: v }));
    },
    ticks: {
      display: !!a.ticks && (a.fs ?? 3) > 0,
      autoSkip: false,
      maxRotation: 0,
      minRotation: 0,
      padding: a.pad ?? 0.8,
      color: a.fc ?? "#888",
      font: {
        size: a.fs || 3,
        family: a.ff ?? SANS,
        weight: a.bold ? "bold" : "normal",
        style: a.italic ? "italic" : "normal",
        lineHeight: 1,
      },
      callback: (v: any, i: number) => (a.labels ? a.labels[i] : String(v)),
    },
    grid: {
      display: tl > 0,
      drawOnChartArea: false,
      drawTicks: tl > 0,
      tickLength: tl,
      tickColor: lc,
      color: lc,
      lineWidth: 0.7,
    },
    border: { display: a.line !== false, color: lc, width: a.lw ?? 0.9 },
  };
}

function toDataset(s: Ser) {
  const col = s.c ?? "#555";
  const noPts = s.ps === false;
  const xo = s.xo ?? 0;
  return {
    data: s.x.map((xv, i) => ({ x: xv + xo, y: s.y[i] })),
    borderColor: col,
    borderWidth: s.w ?? 0.9,
    borderDash: s.dash ?? [],
    showLine: !s.noLine,
    pointStyle: noPts ? false : s.ps ?? "circle",
    pointRadius: noPts ? 0 : s.r ?? 1.5,
    pointBackgroundColor: s.open ? "#ffffff" : col,
    pointBorderColor: col,
    pointBorderWidth: s.pw ?? 0.7,
    tension: 0,
    fill: false,
    clip: false,
    err: s.err,
    errUp: !!s.up,
    errColor: col,
  };
}

function makeConfig(sp: Spec): any {
  const [l, t, r, b] = sp.plot;
  return {
    type: "line",
    data: { datasets: sp.series.map(toDataset) },
    options: {
      animation: false,
      responsive: false,
      maintainAspectRatio: false,
      devicePixelRatio: 1,
      events: [],
      layout: { padding: { left: 0, top: t, right: W - r, bottom: 0 } },
      plugins: { legend: { display: false }, tooltip: { enabled: false }, title: { display: false } },
      scales: { x: axisOptions(sp.x, true, H - b), y: axisOptions(sp.y, false, l) },
    },
    plugins: [decoPlugin(sp), errPlugin],
  };
}

function TextEl({ tx }: { tx: Txt }) {
  const a = tx.a ?? "c";
  let transform = a === "l" ? "translate(0,-50%)" : a === "r" ? "translate(-100%,-50%)" : "translate(-50%,-50%)";
  if (tx.rot) transform = "translate(-50%,-50%) rotate(-90deg)";
  return (
    <span
      style={{
        position: "absolute",
        left: tx.x - 1,
        top: tx.y - 1,
        transform,
        fontSize: tx.s ?? 4,
        fontFamily: tx.f ?? SANS,
        fontWeight: tx.b ? "bold" : "normal",
        fontStyle: tx.i ? "italic" : "normal",
        color: tx.c ?? "#666",
        whiteSpace: "nowrap",
        lineHeight: 1,
      }}
    >
      {tx.t}
    </span>
  );
}

function Thumb({ sp, left, top, name }: { sp: Spec; left: number; top: number; name: string }) {
  const ref = useRef<HTMLCanvasElement>(null);
  useEffect(() => {
    const chart = new Chart(ref.current as HTMLCanvasElement, makeConfig(sp));
    return () => chart.destroy();
  }, [sp]);
  return (
    <>
      <div
        style={{
          position: "absolute",
          left,
          top,
          width: W,
          height: H,
          boxSizing: "border-box",
          border: "1px solid #d6d6d6",
          background: "#fff",
          overflow: "hidden",
        }}
      >
        {sp.hline != null && (
          <div style={{ position: "absolute", left: -1, top: sp.hline - 1, width: W, height: 1, background: "#cfcfcf" }} />
        )}
        <canvas ref={ref} width={W} height={H} style={{ position: "absolute", left: -1, top: -1, width: W, height: H }} />
        {(sp.rects ?? []).map((rc, i) => (
          <div
            key={"r" + i}
            style={{
              position: "absolute",
              left: rc.x - 1,
              top: rc.y - 1,
              width: rc.w,
              height: rc.h,
              boxSizing: "border-box",
              background: rc.bg ?? "#fff",
              border: rc.bd ? `0.5px solid ${rc.bd}` : "none",
            }}
          />
        ))}
        {(sp.texts ?? []).map((tx, i) => (
          <TextEl key={i} tx={tx} />
        ))}
      </div>
      <div
        style={{
          position: "absolute",
          left: left + W / 2,
          top: top + 141,
          transform: "translate(-50%,-50%)",
          fontFamily: DV,
          fontSize: 12.7,
          color: "#000",
          whiteSpace: "nowrap",
          lineHeight: 1,
        }}
      >
        {name}
      </div>
    </>
  );
}

export default function App() {
  return (
    <div>
      <div
        style={{
          position: "fixed",
          left: 5,
          top: 5,
          right: 0,
          bottom: 0,
          borderTop: "2px solid #000",
          borderLeft: "2px solid #000",
          pointerEvents: "none",
        }}
      />
      {SPECS.map((sp, i) => (
        <Thumb key={i} sp={sp} name={FILE_NAMES[i]} left={COL_LEFT[i % 7]} top={ROW_TOP[Math.floor(i / 7)]} />
      ))}
    </div>
  );
}
